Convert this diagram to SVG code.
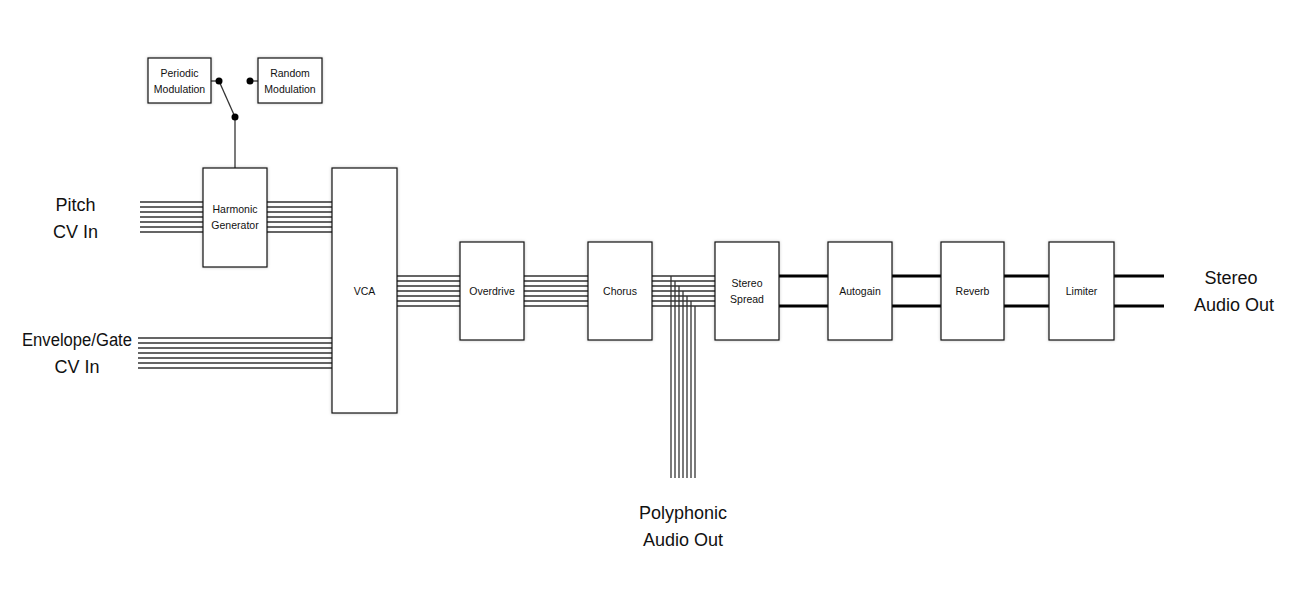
<svg xmlns="http://www.w3.org/2000/svg" width="1305" height="590" viewBox="0 0 1305 590">
<style>
.box{fill:#fff;stroke:#111;stroke-width:1.2;filter:url(#sh)}
.bl{font-family:"Liberation Sans",Arial,sans-serif;font-size:10.5px;fill:#111;text-anchor:middle}
.big{font-family:"Liberation Sans",Arial,sans-serif;font-size:18px;fill:#111;text-anchor:middle}
.w{stroke:#333;stroke-width:1.3;fill:none}
.thick{stroke:#000;stroke-width:3;fill:none}
</style>
<defs>
<filter id="sh" x="-10%" y="-10%" width="130%" height="130%">
<feDropShadow dx="0" dy="0" stdDeviation="1.5" flood-color="#000" flood-opacity="0.25"/>
</filter>
</defs>
<rect width="1305" height="590" fill="#fff"/>
<g id="connectors">
<line class="w" x1="211" y1="81" x2="219" y2="81"/>
<line class="w" x1="250" y1="81" x2="258" y2="81"/>
<line class="w" x1="219" y1="81" x2="235" y2="117"/>
<line class="w" x1="235" y1="117" x2="235" y2="168" stroke="#666"/>
<circle cx="219" cy="81" r="3.5" fill="#000"/>
<circle cx="250" cy="81" r="3.5" fill="#000"/>
<circle cx="235" cy="117" r="3.5" fill="#000"/>
<path class="w" d="M140 202H203M140 207H203M140 212H203M140 217H203M140 222H203M140 227H203M140 232H203"/>
<path class="w" d="M267 202H332M267 207H332M267 212H332M267 217H332M267 222H332M267 227H332M267 232H332"/>
<path class="w" d="M138 338H332M138 343H332M138 348H332M138 353H332M138 358H332M138 363H332M138 368H332"/>
<path class="w" d="M397 276H460M397 281H460M397 286H460M397 291H460M397 296H460M397 301H460M397 306H460"/>
<path class="w" d="M524 276H588M524 281H588M524 286H588M524 291H588M524 296H588M524 301H588M524 306H588"/>
<path class="w" d="M652 276H715M652 281H715M652 286H715M652 291H715M652 296H715M652 301H715M652 306H715"/>
<path class="w" d="M671 276V478M675 281V478M679 286V478M683 291V478M687 296V478M691 301V478M695 306V478"/>
<path class="thick" d="M779 276H828M779 306H828M892 276H941M892 306H941M1004 276H1049M1004 306H1049M1114 276H1164M1114 306H1164"/>
</g>
<g id="periodic"><rect class="box" x="148" y="58" width="63" height="45"/><text class="bl" x="179.5" y="77">Periodic</text><text class="bl" x="179.5" y="93">Modulation</text></g>
<g id="random"><rect class="box" x="258" y="58" width="64" height="45"/><text class="bl" x="290" y="77">Random</text><text class="bl" x="290" y="93">Modulation</text></g>
<g id="harmonic"><rect class="box" x="203" y="168" width="64" height="99"/><text class="bl" x="235" y="213">Harmonic</text><text class="bl" x="235" y="229">Generator</text></g>
<g id="vca"><rect class="box" x="332" y="168" width="65" height="245"/><text class="bl" x="364.5" y="295">VCA</text></g>
<g id="overdrive"><rect class="box" x="460" y="242" width="64" height="98"/><text class="bl" x="492" y="295">Overdrive</text></g>
<g id="chorus"><rect class="box" x="588" y="242" width="64" height="98"/><text class="bl" x="620" y="295">Chorus</text></g>
<g id="spread"><rect class="box" x="715" y="242" width="64" height="98"/><text class="bl" x="747" y="287">Stereo</text><text class="bl" x="747" y="303">Spread</text></g>
<g id="autogain"><rect class="box" x="828" y="242" width="64" height="98"/><text class="bl" x="860" y="295">Autogain</text></g>
<g id="reverb"><rect class="box" x="941" y="242" width="63" height="98"/><text class="bl" x="972.5" y="295">Reverb</text></g>
<g id="limiter"><rect class="box" x="1049" y="242" width="65" height="98"/><text class="bl" x="1081.5" y="295">Limiter</text></g>
<g id="labels">
<text class="big" x="75.5" y="211">Pitch</text>
<text class="big" x="75.5" y="238">CV In</text>
<text class="big" x="77" y="346" textLength="110" lengthAdjust="spacingAndGlyphs">Envelope/Gate</text>
<text class="big" x="77" y="373">CV In</text>
<text class="big" x="1231" y="284">Stereo</text>
<text class="big" x="1234" y="311">Audio Out</text>
<text class="big" x="683" y="519">Polyphonic</text>
<text class="big" x="683" y="546">Audio Out</text>
</g>
</svg>
